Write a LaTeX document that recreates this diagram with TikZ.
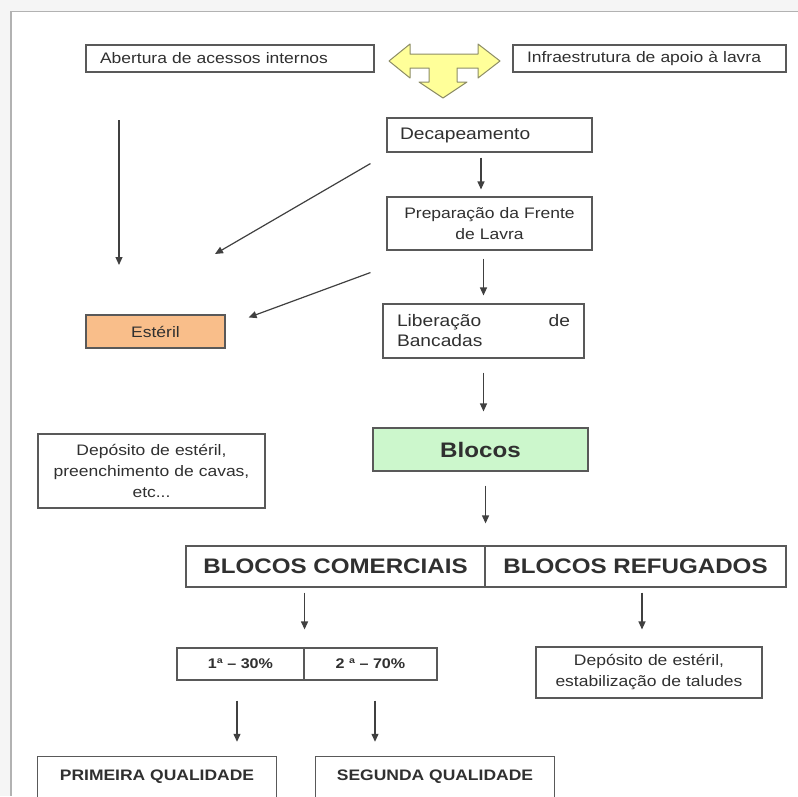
\documentclass[tikz,border=0pt]{standalone}
\usepackage{fontspec}
\setmainfont{Liberation Sans}[FakeStretch=1.15]
\usetikzlibrary{arrows.meta,shadows,calc}
\definecolor{txt}{HTML}{303030}
\definecolor{edge}{HTML}{595959}
\definecolor{orangefill}{HTML}{F9BE8A}
\definecolor{greenfill}{HTML}{CCF7CC}
\definecolor{yellowfill}{HTML}{FFFF99}
\definecolor{yedge}{HTML}{8C8C66}
\newcommand\fsm{\fontsize{15.2}{21}\selectfont}
\newcommand\fmd{\fontsize{16.7}{20}\selectfont}
\newcommand\fbg{\fontsize{21}{24}\selectfont\bfseries}
\newcommand\fpc{\fontsize{14}{17}\selectfont\bfseries}
\newcommand\fql{\fontsize{15.2}{18}\selectfont\bfseries}
\begin{document}
\begin{tikzpicture}[x=1pt,y=-1pt,
  box/.style={draw=edge, line width=1.1pt, fill=white, inner sep=0pt, text=txt,
    drop shadow={shadow xshift=1.2pt, shadow yshift=-1.2pt, fill=black, opacity=.25}},
  plain/.style={inner sep=0pt, text=txt},
  arr/.style={draw=black!75, line width=1.2pt, -{Triangle[length=8pt,width=7pt]}},
  tarrow/.style={draw=yedge, line width=1pt, fill=yellowfill, line join=round},
  frameline/.style={draw=gray!60, line width=1pt}
]
\useasboundingbox (0,0) rectangle (798,796);
% screenshot frame
\fill[gray!8] (0,0) rectangle (798,11);
\fill[gray!8] (0,0) rectangle (10,796);
\draw[frameline] (11,11) -- (798,11);
\draw[frameline, line width=1.6pt] (11,11) -- (11,796);

% top row
\node[box, minimum width=288, minimum height=27, text width=260, align=left, font=\fsm] (abert) at (230,58.5) {Abertura de acessos internos};
\node[box, minimum width=273, minimum height=27, text width=245, align=left, font=\fsm] (infra) at (649.5,58.5) {Infraestrutura de apoio à lavra};
\draw[tarrow] (389,61) -- (410,44) -- (410,54) -- (478,54) -- (478,44) -- (500,61) -- (478,78) -- (478,68) -- (457,68) -- (457,82) -- (467,82) -- (443,98) -- (419,82) -- (429,82) -- (429,68) -- (410,68) -- (410,78) -- cycle;

% right column
\node[box, minimum width=205, minimum height=34, text width=179, align=left, font=\fmd] (decap) at (489.5,135) {Decapeamento};
\node[box, minimum width=205, minimum height=53, text width=190, align=center, font=\fsm] (prep) at (489.5,223.5) {Preparação da Frente\\de Lavra};
\node[box, minimum width=201, minimum height=54, text width=173, align=left, font=\fmd] (lib) at (483.5,331) {\hbox to 173pt{Liberação\hfill de}\\Bancadas};
\node[box, fill=greenfill, minimum width=215, minimum height=43, font=\fbg] (blocos) at (480.5,449.5) {Blocos};

% left column
\node[box, fill=orangefill, minimum width=139, minimum height=33, font=\fsm] (esteril) at (155.5,331.5) {Estéril};
\node[box, minimum width=227, minimum height=74, text width=215, align=center, font=\fsm] (dep1) at (151.5,471) {Depósito de estéril,\\preenchimento de cavas,\\etc...};

% blocks split
\node[box, minimum width=299, minimum height=41, font=\fbg] (com) at (335.5,566.5) {BLOCOS COMERCIAIS};
\node[box, minimum width=301, minimum height=41, font=\fbg] (ref) at (635.5,566.5) {BLOCOS REFUGADOS};

\node[box, minimum width=127, minimum height=32, font=\fpc] (p1) at (240.5,664) {1ª – 30\%};
\node[box, minimum width=133, minimum height=32, font=\fpc] (p2) at (370.5,664) {2 ª – 70\%};
\node[box, minimum width=226, minimum height=51, text width=215, align=center, font=\fsm] (dep2) at (649,672.5) {Depósito de estéril,\\estabilização de taludes};

% quality boxes (open at bottom)
\node[plain, minimum width=238, minimum height=40, font=\fql] (q1) at (157,777) {PRIMEIRA QUALIDADE};
\node[plain, minimum width=238, minimum height=40, font=\fql] (q2) at (435,777) {SEGUNDA QUALIDADE};
\draw[draw=edge, line width=1.1pt] (q1.south west) -- (q1.north west) -- (q1.north east) -- (q1.south east);
\draw[draw=edge, line width=1.1pt] (q2.south west) -- (q2.north west) -- (q2.north east) -- (q2.south east);

% connectors
\coordinate (a1s) at (119,120);
\coordinate (a1e) at (119,265);
\draw[arr] (a1s) -- (a1e);
\draw[arr, shorten <=5pt, shorten >=7pt] ([xshift=-8.5pt]decap.south) -- ([xshift=-8.5pt]prep.north);
\draw[arr, shorten <=8pt, shorten >=8pt] (prep.south -| lib.north) -- (lib.north);
\draw[arr, shorten <=14pt, shorten >=16pt] (lib.south) -- (lib.south |- blocos.north);
\draw[arr, shorten <=14pt, shorten >=22pt] (blocos.south -| com.north east) -- (com.north east);
\draw[arr, shorten <=5pt, shorten >=18pt] (com.south -| p1.north east) -- (p1.north east);
\draw[arr, shorten <=5pt, shorten >=17pt] ([xshift=6.5pt]ref.south) -- ([xshift=6.5pt]ref.south |- dep2.north);
\draw[arr, shorten <=20pt, shorten >=15pt] ([xshift=-3.5pt]p1.south) -- ([xshift=-3.5pt]p1.south |- q1.north);
\draw[arr, shorten <=20pt, shorten >=15pt] ([xshift=4.5pt]p2.south) -- ([xshift=4.5pt]p2.south |- q2.north);
\coordinate (d1s) at ($(decap.south west)+(-16,11)$);
\coordinate (d1e) at (215,254);
\draw[arr] (d1s) -- (d1e);
\coordinate (d2s) at ($(prep.south west)+(-16,22)$);
\coordinate (d2e) at ($(esteril.north east)+(23,3)$);
\draw[arr] (d2s) -- (d2e);
\end{tikzpicture}
\end{document}
